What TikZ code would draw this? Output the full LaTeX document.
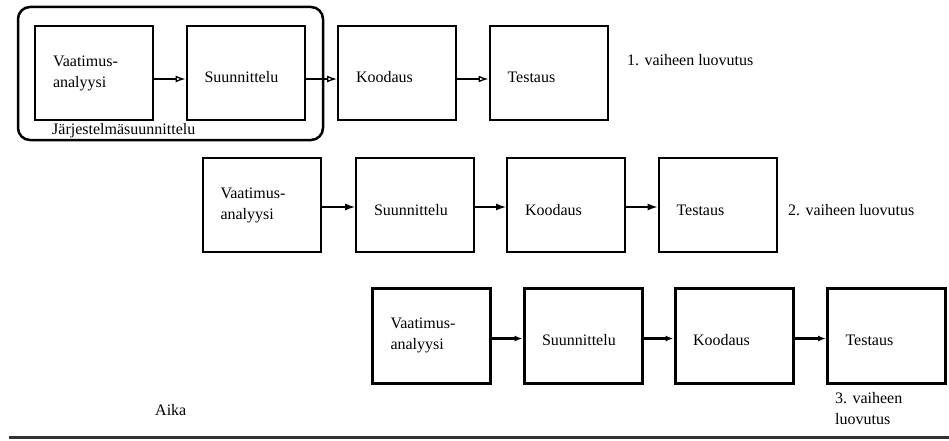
\documentclass[tikz,border=0pt]{standalone}
\usepackage{fontspec}
\setmainfont{Liberation Serif}
\usetikzlibrary{arrows.meta}
\newcommand{\dn}[1]{\raisebox{-6pt}[11pt][3pt]{#1}}
\begin{document}
\begin{tikzpicture}[x=1pt,y=-1pt,
  txt/.style={font=\fontsize{16}{21}\selectfont, inner sep=0pt},
  phase/.style={draw, line width=#1, minimum height=93pt, inner xsep=18pt, inner ysep=0pt,
    align=left, font=\fontsize{16}{21}\selectfont},
  phase/.default=2pt,
  w117/.style={minimum width=118pt, text width=82pt},
  arr1/.style={line width=1.3pt, -{Latex[open,length=10pt,width=7pt]}},
  arr2/.style={line width=1.3pt, -{Latex[length=10pt,width=7pt]}},
  arr3/.style={line width=2.4pt, -{Latex[length=8pt,width=6pt]}}
]
\useasboundingbox (0,0) rectangle (949,441);

% frame
\node[draw, line width=2.5pt, rounded corners=12pt, minimum width=305pt, minimum height=133pt, inner sep=0pt] (frame) at (170.5,73.5) {};
\node[txt, anchor=west] (frlbl) at (52,131) {Järjestelmäsuunnittelu};

% row 1
\node[phase, w117] (a1) at (94,73) {Vaatimus-\\analyysi};
\node[phase, w117] (a2) at (245.5,73) {\dn{Suunnittelu}};
\node[phase, w117] (a3) at (397,73) {\dn{Koodaus}};
\node[phase, w117] (a4) at (548.5,73) {\dn{Testaus}};
\draw[arr1] ([yshift=-6pt]a1.east) -- ([yshift=-6pt]a2.west);
\draw[arr1] ([yshift=-6pt]a2.east) -- ([yshift=-6pt]a3.west);
\draw[arr1] ([yshift=-6pt]a3.east) -- ([yshift=-6pt]a4.west);
\node[txt, anchor=west] (l1) at (627,60) {1. vaiheen luovutus};

% row 2
\node[phase, w117, minimum height=94pt] (b1) at (261.5,205) {Vaatimus-\\analyysi};
\node[phase, w117, minimum height=94pt] (b2) at (415,205) {\dn{Suunnittelu}};
\node[phase, w117, minimum height=94pt] (b3) at (566,205) {\dn{Koodaus}};
\node[phase, w117, minimum height=94pt] (b4) at (717.5,205) {\dn{Testaus}};
\draw[arr2] ([yshift=-2pt]b1.east) -- ([yshift=-2pt]b2.west);
\draw[arr2] ([yshift=-2pt]b2.east) -- ([yshift=-2pt]b3.west);
\draw[arr2] ([yshift=-2pt]b3.east) -- ([yshift=-2pt]b4.west);
\node[txt, anchor=west] (l2) at (788,210) {2. vaiheen luovutus};

% row 3
\node[phase=3pt, w117, minimum height=95pt] (c1) at (431.5,335.5) {Vaatimus-\\analyysi};
\node[phase=3pt, w117, minimum height=95pt] (c2) at (583,335.5) {\dn{Suunnittelu}};
\node[phase=3pt, w117, minimum height=95pt] (c3) at (734,335.5) {\dn{Koodaus}};
\node[phase=3pt, w117, minimum height=95pt] (c4) at (886.5,335.5) {\dn{Testaus}};
\draw[arr3] ([yshift=-3pt]c1.east) -- ([yshift=-3pt]c2.west);
\draw[arr3] ([yshift=-3pt]c2.east) -- ([yshift=-3pt]c3.west);
\draw[arr3] ([yshift=-3pt]c3.east) -- ([yshift=-3pt]c4.west);
\node[txt, anchor=north west, align=left] (l3) at (835,392) {3. vaiheen\\luovutus};

% time axis
\node[txt, anchor=west] (aika) at (155,410) {Aika};
\coordinate (t0) at (9,437);
\coordinate (t1) at (949,437);
\draw[line width=3pt, black!80] (t0) -- (t1);
\end{tikzpicture}
\end{document}
